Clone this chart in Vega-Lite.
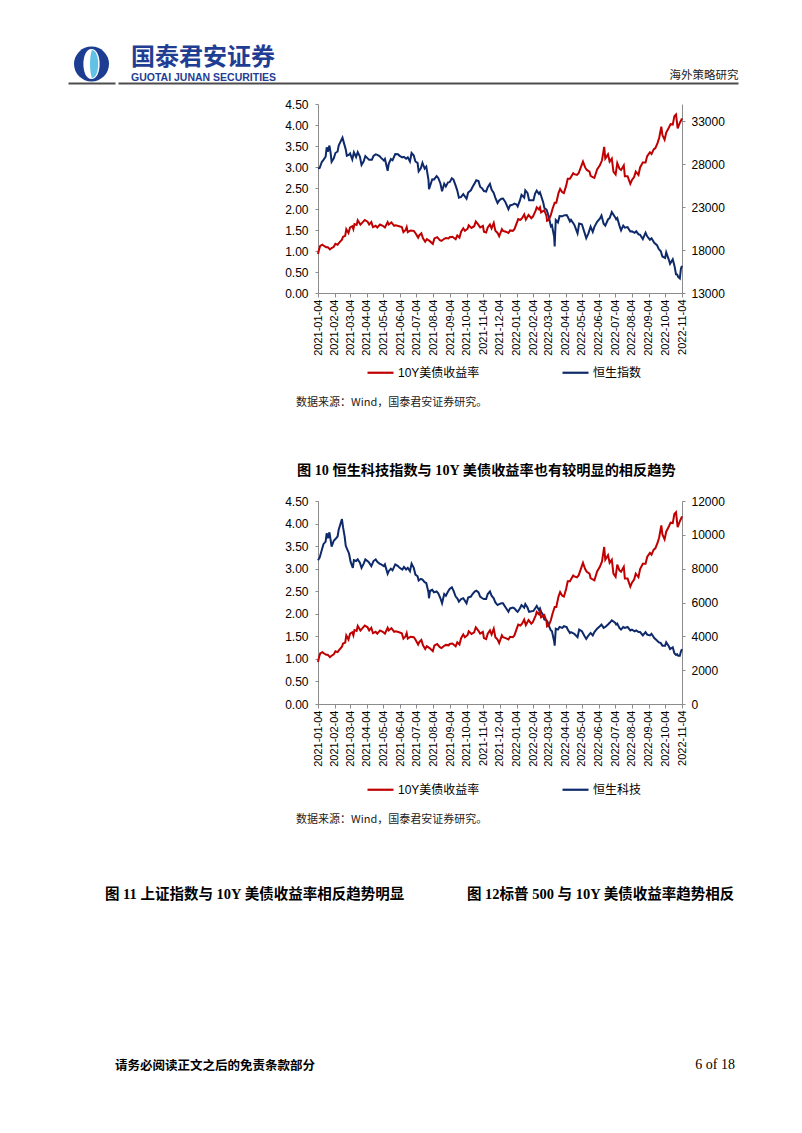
{
  "$schema": "https://vega.github.io/schema/vega-lite/v6.json",
  "background": "white",
  "padding": {"left": 68, "top": 45, "right": 0, "bottom": 0},
  "config": {
    "view": {"stroke": null},
    "font": "Liberation Sans",
    "axis": {"grid": false, "labelColor": "#000000", "labelFont": "Liberation Sans", "domainColor": "#8c8c8c", "tickColor": "#8c8c8c", "labelFontSize": 12, "labelOverlap": false},
    "axisX": {"labelOverlap": false},
    "title": {"color": "#000000"}
  },
  "datasets": {
    "ust": [
      {"d":"2021-01-04","v":0.93},{"d":"2021-01-06","v":1.04},{"d":"2021-01-08","v":1.12},{"d":"2021-01-12","v":1.15},{"d":"2021-01-14","v":1.13},{"d":"2021-01-19","v":1.09},{"d":"2021-01-22","v":1.09},{"d":"2021-01-26","v":1.04},{"d":"2021-01-29","v":1.07},
      {"d":"2021-02-02","v":1.10},{"d":"2021-02-05","v":1.17},{"d":"2021-02-09","v":1.15},{"d":"2021-02-12","v":1.20},{"d":"2021-02-17","v":1.27},{"d":"2021-02-19","v":1.34},{"d":"2021-02-23","v":1.36},{"d":"2021-02-25","v":1.52},
      {"d":"2021-03-01","v":1.43},{"d":"2021-03-04","v":1.56},{"d":"2021-03-08","v":1.59},{"d":"2021-03-10","v":1.52},{"d":"2021-03-12","v":1.64},{"d":"2021-03-16","v":1.62},{"d":"2021-03-18","v":1.73},{"d":"2021-03-23","v":1.63},{"d":"2021-03-26","v":1.67},{"d":"2021-03-31","v":1.74},
      {"d":"2021-04-05","v":1.70},{"d":"2021-04-08","v":1.63},{"d":"2021-04-12","v":1.69},{"d":"2021-04-15","v":1.57},{"d":"2021-04-20","v":1.60},{"d":"2021-04-23","v":1.56},{"d":"2021-04-28","v":1.63},
      {"d":"2021-05-03","v":1.60},{"d":"2021-05-07","v":1.56},{"d":"2021-05-12","v":1.69},{"d":"2021-05-14","v":1.63},{"d":"2021-05-19","v":1.68},{"d":"2021-05-24","v":1.60},{"d":"2021-05-27","v":1.61},
      {"d":"2021-06-02","v":1.59},{"d":"2021-06-07","v":1.57},{"d":"2021-06-10","v":1.45},{"d":"2021-06-14","v":1.50},{"d":"2021-06-16","v":1.57},{"d":"2021-06-18","v":1.45},{"d":"2021-06-23","v":1.49},{"d":"2021-06-29","v":1.48},
      {"d":"2021-07-02","v":1.43},{"d":"2021-07-07","v":1.32},{"d":"2021-07-09","v":1.37},{"d":"2021-07-13","v":1.42},{"d":"2021-07-16","v":1.30},{"d":"2021-07-20","v":1.22},{"d":"2021-07-23","v":1.28},{"d":"2021-07-28","v":1.24},
      {"d":"2021-08-03","v":1.17},{"d":"2021-08-06","v":1.30},{"d":"2021-08-11","v":1.33},{"d":"2021-08-16","v":1.26},{"d":"2021-08-19","v":1.24},{"d":"2021-08-24","v":1.29},{"d":"2021-08-27","v":1.31},
      {"d":"2021-09-01","v":1.30},{"d":"2021-09-03","v":1.33},{"d":"2021-09-08","v":1.34},{"d":"2021-09-14","v":1.28},{"d":"2021-09-17","v":1.37},{"d":"2021-09-21","v":1.32},{"d":"2021-09-24","v":1.46},{"d":"2021-09-28","v":1.54},
      {"d":"2021-10-01","v":1.48},{"d":"2021-10-06","v":1.53},{"d":"2021-10-08","v":1.61},{"d":"2021-10-13","v":1.55},{"d":"2021-10-18","v":1.59},{"d":"2021-10-21","v":1.70},{"d":"2021-10-26","v":1.62},{"d":"2021-10-29","v":1.56},
      {"d":"2021-11-03","v":1.60},{"d":"2021-11-05","v":1.46},{"d":"2021-11-09","v":1.44},{"d":"2021-11-12","v":1.56},{"d":"2021-11-16","v":1.63},{"d":"2021-11-19","v":1.54},{"d":"2021-11-23","v":1.67},{"d":"2021-11-26","v":1.48},{"d":"2021-11-30","v":1.43},
      {"d":"2021-12-03","v":1.35},{"d":"2021-12-08","v":1.52},{"d":"2021-12-10","v":1.48},{"d":"2021-12-15","v":1.46},{"d":"2021-12-20","v":1.43},{"d":"2021-12-23","v":1.49},{"d":"2021-12-28","v":1.48},{"d":"2021-12-31","v":1.52},
      {"d":"2022-01-04","v":1.66},{"d":"2022-01-07","v":1.76},{"d":"2022-01-11","v":1.74},{"d":"2022-01-14","v":1.78},{"d":"2022-01-18","v":1.87},{"d":"2022-01-21","v":1.75},{"d":"2022-01-26","v":1.86},{"d":"2022-01-31","v":1.78},
      {"d":"2022-02-03","v":1.82},{"d":"2022-02-08","v":1.96},{"d":"2022-02-10","v":2.04},{"d":"2022-02-14","v":1.99},{"d":"2022-02-16","v":2.04},{"d":"2022-02-18","v":1.92},{"d":"2022-02-24","v":1.97},{"d":"2022-02-28","v":1.83},
      {"d":"2022-03-01","v":1.72},{"d":"2022-03-04","v":1.74},{"d":"2022-03-08","v":1.86},{"d":"2022-03-11","v":2.00},{"d":"2022-03-15","v":2.15},{"d":"2022-03-18","v":2.15},{"d":"2022-03-22","v":2.38},{"d":"2022-03-25","v":2.48},{"d":"2022-03-29","v":2.40},
      {"d":"2022-04-01","v":2.38},{"d":"2022-04-05","v":2.55},{"d":"2022-04-08","v":2.72},{"d":"2022-04-12","v":2.72},{"d":"2022-04-18","v":2.85},{"d":"2022-04-20","v":2.83},{"d":"2022-04-25","v":2.81},{"d":"2022-04-28","v":2.85},
      {"d":"2022-05-02","v":2.99},{"d":"2022-05-06","v":3.13},{"d":"2022-05-10","v":2.99},{"d":"2022-05-13","v":2.93},{"d":"2022-05-18","v":2.89},{"d":"2022-05-20","v":2.79},{"d":"2022-05-24","v":2.76},{"d":"2022-05-27","v":2.74},
      {"d":"2022-06-01","v":2.94},{"d":"2022-06-06","v":3.04},{"d":"2022-06-10","v":3.16},{"d":"2022-06-14","v":3.48},{"d":"2022-06-16","v":3.20},{"d":"2022-06-21","v":3.30},{"d":"2022-06-24","v":3.13},{"d":"2022-06-28","v":3.20},
      {"d":"2022-07-01","v":2.89},{"d":"2022-07-05","v":2.82},{"d":"2022-07-08","v":3.09},{"d":"2022-07-12","v":2.96},{"d":"2022-07-15","v":2.93},{"d":"2022-07-20","v":3.04},{"d":"2022-07-22","v":2.78},{"d":"2022-07-27","v":2.78},
      {"d":"2022-08-01","v":2.60},{"d":"2022-08-04","v":2.69},{"d":"2022-08-08","v":2.76},{"d":"2022-08-11","v":2.89},{"d":"2022-08-16","v":2.81},{"d":"2022-08-19","v":2.99},{"d":"2022-08-24","v":3.11},{"d":"2022-08-29","v":3.11},
      {"d":"2022-09-01","v":3.26},{"d":"2022-09-06","v":3.35},{"d":"2022-09-09","v":3.31},{"d":"2022-09-13","v":3.42},{"d":"2022-09-16","v":3.45},{"d":"2022-09-20","v":3.57},{"d":"2022-09-23","v":3.69},{"d":"2022-09-27","v":3.96},{"d":"2022-09-29","v":3.76},
      {"d":"2022-10-03","v":3.65},{"d":"2022-10-06","v":3.82},{"d":"2022-10-11","v":3.94},{"d":"2022-10-14","v":4.02},{"d":"2022-10-18","v":4.01},{"d":"2022-10-21","v":4.21},{"d":"2022-10-24","v":4.25},{"d":"2022-10-27","v":3.92},{"d":"2022-10-31","v":4.05},
      {"d":"2022-11-02","v":4.10},{"d":"2022-11-04","v":4.16}
    ],
    "hsi": [
      {"d":"2021-01-04","v":27472},{"d":"2021-01-07","v":27548},{"d":"2021-01-11","v":28246},{"d":"2021-01-14","v":28496},{"d":"2021-01-18","v":28862},{"d":"2021-01-20","v":29962},{"d":"2021-01-22","v":29447},{"d":"2021-01-25","v":30159},{"d":"2021-01-27","v":29391},{"d":"2021-01-29","v":28283},
      {"d":"2021-02-02","v":28689},{"d":"2021-02-05","v":29289},{"d":"2021-02-09","v":29476},{"d":"2021-02-11","v":30173},{"d":"2021-02-18","v":31085},{"d":"2021-02-22","v":30156},{"d":"2021-02-24","v":29718},{"d":"2021-02-26","v":28980},
      {"d":"2021-03-02","v":29095},{"d":"2021-03-04","v":29236},{"d":"2021-03-08","v":28540},{"d":"2021-03-11","v":29385},{"d":"2021-03-15","v":28834},{"d":"2021-03-18","v":29405},{"d":"2021-03-22","v":28885},{"d":"2021-03-25","v":27900},{"d":"2021-03-29","v":28338},
      {"d":"2021-04-01","v":28939},{"d":"2021-04-08","v":28497},{"d":"2021-04-13","v":28497},{"d":"2021-04-16","v":28969},{"d":"2021-04-20","v":29135},{"d":"2021-04-23","v":29078},{"d":"2021-04-27","v":28941},{"d":"2021-04-30","v":28725},
      {"d":"2021-05-05","v":28418},{"d":"2021-05-07","v":28610},{"d":"2021-05-12","v":27231},{"d":"2021-05-14","v":28027},{"d":"2021-05-18","v":28593},{"d":"2021-05-21","v":28458},{"d":"2021-05-26","v":29166},{"d":"2021-05-31","v":29152},
      {"d":"2021-06-03","v":28966},{"d":"2021-06-08","v":28781},{"d":"2021-06-11","v":28842},{"d":"2021-06-15","v":28638},{"d":"2021-06-18","v":28801},{"d":"2021-06-22","v":28309},{"d":"2021-06-25","v":29288},{"d":"2021-06-29","v":28995},
      {"d":"2021-07-02","v":28310},{"d":"2021-07-06","v":28143},{"d":"2021-07-08","v":27154},{"d":"2021-07-12","v":27515},{"d":"2021-07-15","v":28151},{"d":"2021-07-19","v":27489},{"d":"2021-07-22","v":27723},{"d":"2021-07-26","v":26192},{"d":"2021-07-27","v":25086},{"d":"2021-07-29","v":25473},
      {"d":"2021-08-02","v":26235},{"d":"2021-08-05","v":26205},{"d":"2021-08-10","v":26605},{"d":"2021-08-13","v":26391},{"d":"2021-08-17","v":25745},{"d":"2021-08-20","v":24849},{"d":"2021-08-24","v":25727},{"d":"2021-08-27","v":25407},{"d":"2021-08-31","v":25878},
      {"d":"2021-09-03","v":25901},{"d":"2021-09-07","v":26353},{"d":"2021-09-10","v":26205},{"d":"2021-09-14","v":25502},{"d":"2021-09-17","v":24920},{"d":"2021-09-20","v":24099},{"d":"2021-09-24","v":24192},{"d":"2021-09-28","v":24500},
      {"d":"2021-10-04","v":23972},{"d":"2021-10-07","v":24701},{"d":"2021-10-12","v":24962},{"d":"2021-10-15","v":25330},{"d":"2021-10-19","v":25787},{"d":"2021-10-22","v":26126},{"d":"2021-10-26","v":26038},{"d":"2021-10-29","v":25377},
      {"d":"2021-11-02","v":25155},{"d":"2021-11-05","v":24870},{"d":"2021-11-09","v":24813},{"d":"2021-11-12","v":25327},{"d":"2021-11-16","v":25714},{"d":"2021-11-19","v":25049},{"d":"2021-11-23","v":24652},{"d":"2021-11-26","v":24080},{"d":"2021-11-30","v":23475},
      {"d":"2021-12-03","v":23767},{"d":"2021-12-07","v":23983},{"d":"2021-12-10","v":23995},{"d":"2021-12-14","v":23635},{"d":"2021-12-17","v":23193},{"d":"2021-12-20","v":22744},{"d":"2021-12-23","v":23193},{"d":"2021-12-28","v":23280},{"d":"2021-12-31","v":23398},
      {"d":"2022-01-04","v":23289},{"d":"2022-01-06","v":23072},{"d":"2022-01-10","v":23746},{"d":"2022-01-13","v":24430},{"d":"2022-01-18","v":24113},{"d":"2022-01-20","v":24953},{"d":"2022-01-24","v":24656},{"d":"2022-01-27","v":23807},
      {"d":"2022-02-04","v":23802},{"d":"2022-02-07","v":24579},{"d":"2022-02-10","v":24924},{"d":"2022-02-14","v":24556},{"d":"2022-02-16","v":24718},{"d":"2022-02-18","v":24327},{"d":"2022-02-22","v":23520},{"d":"2022-02-24","v":22901},{"d":"2022-02-28","v":22713},
      {"d":"2022-03-02","v":22343},{"d":"2022-03-04","v":21906},{"d":"2022-03-08","v":20765},{"d":"2022-03-10","v":20890},{"d":"2022-03-14","v":19531},{"d":"2022-03-15","v":18415},{"d":"2022-03-16","v":20087},{"d":"2022-03-17","v":21501},{"d":"2022-03-21","v":21221},{"d":"2022-03-24","v":21945},{"d":"2022-03-29","v":21927},
      {"d":"2022-04-01","v":22039},{"d":"2022-04-06","v":22080},{"d":"2022-04-08","v":21872},{"d":"2022-04-12","v":21319},{"d":"2022-04-14","v":21518},{"d":"2022-04-20","v":20944},{"d":"2022-04-26","v":19934},{"d":"2022-04-29","v":21089},
      {"d":"2022-05-04","v":21001},{"d":"2022-05-09","v":20002},{"d":"2022-05-12","v":19380},{"d":"2022-05-16","v":19950},{"d":"2022-05-20","v":20717},{"d":"2022-05-24","v":20112},{"d":"2022-05-27","v":20697},
      {"d":"2022-06-01","v":21294},{"d":"2022-06-06","v":21653},{"d":"2022-06-09","v":22014},{"d":"2022-06-13","v":21067},{"d":"2022-06-16","v":20845},{"d":"2022-06-21","v":21559},{"d":"2022-06-24","v":21719},{"d":"2022-06-28","v":22418},
      {"d":"2022-07-04","v":21830},{"d":"2022-07-06","v":21586},{"d":"2022-07-08","v":21725},{"d":"2022-07-12","v":20844},{"d":"2022-07-15","v":20297},{"d":"2022-07-19","v":20846},{"d":"2022-07-22","v":20609},{"d":"2022-07-27","v":20670},
      {"d":"2022-08-01","v":20165},{"d":"2022-08-04","v":20174},{"d":"2022-08-09","v":20003},{"d":"2022-08-12","v":20175},{"d":"2022-08-16","v":19830},{"d":"2022-08-19","v":19773},{"d":"2022-08-24","v":19268},{"d":"2022-08-29","v":20023},
      {"d":"2022-09-01","v":19597},{"d":"2022-09-06","v":19202},{"d":"2022-09-09","v":19362},{"d":"2022-09-14","v":18848},{"d":"2022-09-19","v":18566},{"d":"2022-09-22","v":18147},{"d":"2022-09-26","v":17855},{"d":"2022-09-29","v":17250},
      {"d":"2022-10-04","v":17080},{"d":"2022-10-06","v":17740},{"d":"2022-10-11","v":16832},{"d":"2022-10-13","v":16389},{"d":"2022-10-18","v":16914},{"d":"2022-10-21","v":16211},{"d":"2022-10-24","v":15180},{"d":"2022-10-26","v":15165},{"d":"2022-10-28","v":14863},{"d":"2022-10-31","v":14687},
      {"d":"2022-11-02","v":15827},{"d":"2022-11-04","v":16161}
    ],
    "hst": [
      {"d":"2021-01-04","v":8500},{"d":"2021-01-07","v":8650},{"d":"2021-01-11","v":9100},{"d":"2021-01-14","v":9450},{"d":"2021-01-18","v":9600},{"d":"2021-01-20","v":10100},{"d":"2021-01-22","v":9800},{"d":"2021-01-25","v":10150},{"d":"2021-01-27","v":9750},{"d":"2021-01-29","v":9300},
      {"d":"2021-02-02","v":9650},{"d":"2021-02-05","v":9750},{"d":"2021-02-09","v":9900},{"d":"2021-02-11","v":10300},{"d":"2021-02-17","v":10930},{"d":"2021-02-19","v":10450},{"d":"2021-02-22","v":9900},{"d":"2021-02-24","v":9350},{"d":"2021-02-26","v":9200},
      {"d":"2021-03-02","v":8900},{"d":"2021-03-05","v":8400},{"d":"2021-03-09","v":8050},{"d":"2021-03-11","v":8500},{"d":"2021-03-15","v":8450},{"d":"2021-03-18","v":8550},{"d":"2021-03-22","v":8350},{"d":"2021-03-25","v":8050},{"d":"2021-03-29","v":8300},
      {"d":"2021-04-01","v":8550},{"d":"2021-04-07","v":8400},{"d":"2021-04-12","v":8150},{"d":"2021-04-16","v":8450},{"d":"2021-04-20","v":8550},{"d":"2021-04-23","v":8400},{"d":"2021-04-27","v":8300},{"d":"2021-04-30","v":8250},
      {"d":"2021-05-05","v":8150},{"d":"2021-05-07","v":8250},{"d":"2021-05-12","v":7700},{"d":"2021-05-14","v":7850},{"d":"2021-05-18","v":8000},{"d":"2021-05-21","v":7900},{"d":"2021-05-26","v":8250},{"d":"2021-05-31","v":8150},
      {"d":"2021-06-03","v":8050},{"d":"2021-06-08","v":7950},{"d":"2021-06-11","v":8100},{"d":"2021-06-15","v":7950},{"d":"2021-06-18","v":8050},{"d":"2021-06-22","v":7850},{"d":"2021-06-25","v":8300},{"d":"2021-06-29","v":8050},
      {"d":"2021-07-02","v":7650},{"d":"2021-07-06","v":7550},{"d":"2021-07-08","v":7300},{"d":"2021-07-12","v":7400},{"d":"2021-07-15","v":7350},{"d":"2021-07-19","v":7200},{"d":"2021-07-22","v":7150},{"d":"2021-07-26","v":6600},{"d":"2021-07-27","v":6250},{"d":"2021-07-29","v":6700},
      {"d":"2021-08-02","v":6750},{"d":"2021-08-05","v":6600},{"d":"2021-08-10","v":6650},{"d":"2021-08-13","v":6550},{"d":"2021-08-17","v":6250},{"d":"2021-08-20","v":5950},{"d":"2021-08-24","v":6500},{"d":"2021-08-27","v":6400},{"d":"2021-08-31","v":6650},
      {"d":"2021-09-03","v":6800},{"d":"2021-09-07","v":6900},{"d":"2021-09-10","v":6700},{"d":"2021-09-14","v":6350},{"d":"2021-09-17","v":6250},{"d":"2021-09-20","v":6050},{"d":"2021-09-24","v":6200},{"d":"2021-09-28","v":6250},
      {"d":"2021-10-04","v":5950},{"d":"2021-10-07","v":6300},{"d":"2021-10-12","v":6350},{"d":"2021-10-15","v":6500},{"d":"2021-10-19","v":6650},{"d":"2021-10-22","v":6700},{"d":"2021-10-26","v":6600},{"d":"2021-10-29","v":6350},
      {"d":"2021-11-02","v":6250},{"d":"2021-11-05","v":6200},{"d":"2021-11-09","v":6200},{"d":"2021-11-12","v":6500},{"d":"2021-11-16","v":6650},{"d":"2021-11-19","v":6400},{"d":"2021-11-23","v":6250},{"d":"2021-11-26","v":6000},{"d":"2021-11-30","v":5850},
      {"d":"2021-12-03","v":5900},{"d":"2021-12-07","v":5950},{"d":"2021-12-10","v":5950},{"d":"2021-12-14","v":5750},{"d":"2021-12-17","v":5600},{"d":"2021-12-20","v":5450},{"d":"2021-12-23","v":5650},{"d":"2021-12-28","v":5700},{"d":"2021-12-31","v":5650},
      {"d":"2022-01-04","v":5500},{"d":"2022-01-06","v":5450},{"d":"2022-01-10","v":5650},{"d":"2022-01-13","v":5850},{"d":"2022-01-18","v":5700},{"d":"2022-01-20","v":5900},{"d":"2022-01-24","v":5700},{"d":"2022-01-27","v":5450},
      {"d":"2022-02-04","v":5500},{"d":"2022-02-07","v":5650},{"d":"2022-02-10","v":5800},{"d":"2022-02-14","v":5550},{"d":"2022-02-16","v":5650},{"d":"2022-02-18","v":5450},{"d":"2022-02-22","v":5250},{"d":"2022-02-24","v":5000},{"d":"2022-02-28","v":4950},
      {"d":"2022-03-02","v":4850},{"d":"2022-03-04","v":4650},{"d":"2022-03-08","v":4350},{"d":"2022-03-10","v":4300},{"d":"2022-03-14","v":3700},{"d":"2022-03-15","v":3450},{"d":"2022-03-16","v":3950},{"d":"2022-03-17","v":4450},{"d":"2022-03-21","v":4400},{"d":"2022-03-24","v":4550},{"d":"2022-03-29","v":4500},
      {"d":"2022-04-01","v":4600},{"d":"2022-04-06","v":4550},{"d":"2022-04-08","v":4400},{"d":"2022-04-12","v":4200},{"d":"2022-04-14","v":4250},{"d":"2022-04-20","v":4150},{"d":"2022-04-26","v":3950},{"d":"2022-04-29","v":4400},
      {"d":"2022-05-04","v":4300},{"d":"2022-05-09","v":4000},{"d":"2022-05-12","v":3850},{"d":"2022-05-16","v":4050},{"d":"2022-05-20","v":4200},{"d":"2022-05-24","v":4050},{"d":"2022-05-27","v":4250},
      {"d":"2022-06-01","v":4450},{"d":"2022-06-06","v":4600},{"d":"2022-06-09","v":4700},{"d":"2022-06-13","v":4500},{"d":"2022-06-16","v":4550},{"d":"2022-06-21","v":4700},{"d":"2022-06-24","v":4800},{"d":"2022-06-28","v":4950},
      {"d":"2022-07-04","v":4800},{"d":"2022-07-06","v":4700},{"d":"2022-07-08","v":4750},{"d":"2022-07-12","v":4500},{"d":"2022-07-15","v":4400},{"d":"2022-07-19","v":4550},{"d":"2022-07-22","v":4500},{"d":"2022-07-27","v":4550},
      {"d":"2022-08-01","v":4350},{"d":"2022-08-04","v":4400},{"d":"2022-08-09","v":4300},{"d":"2022-08-12","v":4350},{"d":"2022-08-16","v":4250},{"d":"2022-08-19","v":4250},{"d":"2022-08-24","v":4050},{"d":"2022-08-29","v":4250},
      {"d":"2022-09-01","v":4100},{"d":"2022-09-06","v":4050},{"d":"2022-09-09","v":4150},{"d":"2022-09-14","v":3900},{"d":"2022-09-19","v":3750},{"d":"2022-09-22","v":3650},{"d":"2022-09-26","v":3600},{"d":"2022-09-29","v":3450},
      {"d":"2022-10-04","v":3450},{"d":"2022-10-06","v":3650},{"d":"2022-10-11","v":3400},{"d":"2022-10-13","v":3250},{"d":"2022-10-18","v":3350},{"d":"2022-10-21","v":3000},{"d":"2022-10-24","v":2900},{"d":"2022-10-26","v":2950},{"d":"2022-10-28","v":2850},{"d":"2022-10-31","v":2850},
      {"d":"2022-11-02","v":3100},{"d":"2022-11-04","v":3250}
    ]
  },
  "resolve": {"scale": {"color": "independent", "x": "independent", "y": "independent"}, "legend": {"color": "independent"}},
  "spacing": 15,
  "vconcat": [
    {
      "spacing": 0,
      "resolve": {"scale": {"x": "independent", "y": "independent"}},
      "hconcat": [
        {
          "width": 47, "height": 38,
          "data": {"values": [{"logo": 1}]},
          "layer": [
            {"mark": {"type": "point", "shape": "circle", "filled": true, "size": 1225, "color": "#1c3d91", "opacity": 1},
             "encoding": {"x": {"datum": 0.5, "type": "quantitative", "scale": {"domain": [0, 1]}, "axis": {"orient": "bottom", "domain": true, "domainColor": "#4d4d4d", "domainWidth": 2, "ticks": false, "labels": false, "title": null, "grid": false}}}},
            {"mark": {"type": "point", "shape": "M0,-0.86C0.62,-0.86 0.62,0.86 0,0.86C-0.62,0.86 -0.62,-0.86 0,-0.86Z", "filled": true, "size": 1225, "color": "#ffffff", "opacity": 1},
             "encoding": {"x": {"datum": 0.5, "type": "quantitative"}}},
            {"mark": {"type": "point", "shape": "M0.02,-0.8C0.5,-0.8 0.5,0.8 0.02,0.8C-0.12,0.4 -0.12,-0.4 0.02,-0.8Z", "filled": true, "size": 1225, "color": "#62c2e6", "opacity": 1},
             "encoding": {"x": {"datum": 0.5, "type": "quantitative"}}}
          ]
        },
        {
          "width": 620, "height": 38,
          "data": {"values": [{"a": 0}]},
          "title": {"text": "国泰君安证券", "subtitle": "GUOTAI JUNAN SECURITIES", "anchor": "start", "frame": "group", "dx": 13, "offset": -38, "font": "Noto Sans CJK SC", "fontSize": 24, "fontWeight": "bold", "color": "#1f3e93", "subtitleFont": "Liberation Sans", "subtitleFontSize": 10.5, "subtitleFontWeight": "bold", "subtitleColor": "#1f3e93", "subtitlePadding": 3},
          "mark": {"type": "point", "opacity": 0},
          "encoding": {"x": {"field": "a", "type": "quantitative", "scale": {"domain": [0, 1]}, "axis": {"orient": "bottom", "domain": true, "domainColor": "#4d4d4d", "domainWidth": 2, "ticks": false, "labels": false, "grid": false, "title": "海外策略研究", "titleAnchor": "end", "titlePadding": -3, "titleBaseline": "bottom", "titleFont": "Noto Sans CJK SC", "titleFontSize": 11.5, "titleFontWeight": "normal", "titleColor": "#222222"}}}
        }
      ]
    },
    {
      "spacing": 0,
      "resolve": {"scale": {"color": "independent", "x": "independent", "y": "independent"}},
      "hconcat": [
        {"width": 216, "height": 344, "data": {"values": []}, "mark": "point"},
        {
          "width": 364, "height": 189,
          "title": {"text": "数据来源：Wind，国泰君安证券研究。", "orient": "bottom", "anchor": "start", "frame": "group", "dx": -22, "offset": 18, "fontSize": 11, "fontWeight": "normal", "font": "Noto Sans CJK SC", "color": "#222222"},
          "layer": [
            {"data": {"name": "hsi"}, "mark": {"type": "line", "strokeWidth": 2},
             "encoding": {
               "x": {"field": "d", "type": "temporal", "scale": {"type": "utc", "domain": [{"year":2021,"month":1,"date":4,"utc":true},{"year":2022,"month":11,"date":4,"utc":true}]},
                     "axis": {"values": [{"year":2021,"month":1,"date":4,"utc":true},{"year":2021,"month":2,"date":4,"utc":true},{"year":2021,"month":3,"date":4,"utc":true},{"year":2021,"month":4,"date":4,"utc":true},{"year":2021,"month":5,"date":4,"utc":true},{"year":2021,"month":6,"date":4,"utc":true},{"year":2021,"month":7,"date":4,"utc":true},{"year":2021,"month":8,"date":4,"utc":true},{"year":2021,"month":9,"date":4,"utc":true},{"year":2021,"month":10,"date":4,"utc":true},{"year":2021,"month":11,"date":4,"utc":true},{"year":2021,"month":12,"date":4,"utc":true},{"year":2022,"month":1,"date":4,"utc":true},{"year":2022,"month":2,"date":4,"utc":true},{"year":2022,"month":3,"date":4,"utc":true},{"year":2022,"month":4,"date":4,"utc":true},{"year":2022,"month":5,"date":4,"utc":true},{"year":2022,"month":6,"date":4,"utc":true},{"year":2022,"month":7,"date":4,"utc":true},{"year":2022,"month":8,"date":4,"utc":true},{"year":2022,"month":9,"date":4,"utc":true},{"year":2022,"month":10,"date":4,"utc":true},{"year":2022,"month":11,"date":4,"utc":true}],
                              "format": "%Y-%m-%d", "labelAngle": -90, "labelFontSize": 11, "tickSize": 4, "labelPadding": 2, "title": null, "labelOverlap": false, "labelFlush": false, "labelBound": false}},
               "y": {"field": "v", "type": "quantitative", "scale": {"domain": [13000, 35000], "zero": false, "nice": false}, "axis": {"orient": "right", "values": [13000, 18000, 23000, 28000, 33000], "format": "d", "title": null, "tickSize": 3, "labelPadding": 6, "labelOverlap": false}},
               "color": {"datum": "恒生指数", "type": "nominal", "scale": {"domain": ["10Y美债收益率", "恒生指数"], "range": ["#c00000", "#0e2a6b"]},
                         "legend": {"orient": "none", "legendX": 48, "legendY": 254, "direction": "horizontal", "title": null, "symbolType": "stroke", "symbolSize": 676, "symbolStrokeWidth": 2.2, "labelFontSize": 12, "labelFont": "Liberation Sans, Noto Sans CJK SC", "labelColor": "#000000", "labelOffset": 3, "columnPadding": 78, "padding": 0}}
             }},
            {"data": {"name": "ust"}, "mark": {"type": "line", "strokeWidth": 2},
             "encoding": {
               "x": {"field": "d", "type": "temporal", "scale": {"type": "utc", "domain": [{"year":2021,"month":1,"date":4,"utc":true},{"year":2022,"month":11,"date":4,"utc":true}]},
                     "axis": {"values": [{"year":2021,"month":1,"date":4,"utc":true},{"year":2021,"month":2,"date":4,"utc":true},{"year":2021,"month":3,"date":4,"utc":true},{"year":2021,"month":4,"date":4,"utc":true},{"year":2021,"month":5,"date":4,"utc":true},{"year":2021,"month":6,"date":4,"utc":true},{"year":2021,"month":7,"date":4,"utc":true},{"year":2021,"month":8,"date":4,"utc":true},{"year":2021,"month":9,"date":4,"utc":true},{"year":2021,"month":10,"date":4,"utc":true},{"year":2021,"month":11,"date":4,"utc":true},{"year":2021,"month":12,"date":4,"utc":true},{"year":2022,"month":1,"date":4,"utc":true},{"year":2022,"month":2,"date":4,"utc":true},{"year":2022,"month":3,"date":4,"utc":true},{"year":2022,"month":4,"date":4,"utc":true},{"year":2022,"month":5,"date":4,"utc":true},{"year":2022,"month":6,"date":4,"utc":true},{"year":2022,"month":7,"date":4,"utc":true},{"year":2022,"month":8,"date":4,"utc":true},{"year":2022,"month":9,"date":4,"utc":true},{"year":2022,"month":10,"date":4,"utc":true},{"year":2022,"month":11,"date":4,"utc":true}],
                              "format": "%Y-%m-%d", "labelAngle": -90, "labelFontSize": 11, "tickSize": 4, "labelPadding": 2, "title": null, "labelOverlap": false, "labelFlush": false, "labelBound": false}},
               "y": {"field": "v", "type": "quantitative", "scale": {"domain": [0, 4.5], "nice": false}, "axis": {"orient": "left", "values": [0, 0.5, 1, 1.5, 2, 2.5, 3, 3.5, 4, 4.5], "format": ".2f", "title": null, "tickSize": 3, "labelPadding": 7, "labelOverlap": false}},
               "color": {"datum": "10Y美债收益率", "type": "nominal"}
             }}
          ],
          "resolve": {"scale": {"y": "independent"}}
        }
      ]
    },
    {
      "spacing": 0,
      "title": {"text": "图 10 恒生科技指数与 10Y 美债收益率也有较明显的相反趋势", "anchor": "start", "frame": "group", "dx": 229, "offset": 17, "font": "Liberation Serif, Noto Sans CJK SC", "fontSize": 14.2, "fontWeight": "bold", "color": "#000000"},
      "resolve": {"scale": {"color": "independent", "x": "independent", "y": "independent"}},
      "hconcat": [
        {"width": 216, "height": 370, "data": {"values": []}, "mark": "point"},
        {
          "width": 364, "height": 203,
          "title": {"text": "数据来源：Wind，国泰君安证券研究。", "orient": "bottom", "anchor": "start", "frame": "group", "dx": -22, "offset": 18, "fontSize": 11, "fontWeight": "normal", "font": "Noto Sans CJK SC", "color": "#222222"},
          "layer": [
            {"data": {"name": "hst"}, "mark": {"type": "line", "strokeWidth": 2},
             "encoding": {
               "x": {"field": "d", "type": "temporal", "scale": {"type": "utc", "domain": [{"year":2021,"month":1,"date":4,"utc":true},{"year":2022,"month":11,"date":4,"utc":true}]},
                     "axis": {"values": [{"year":2021,"month":1,"date":4,"utc":true},{"year":2021,"month":2,"date":4,"utc":true},{"year":2021,"month":3,"date":4,"utc":true},{"year":2021,"month":4,"date":4,"utc":true},{"year":2021,"month":5,"date":4,"utc":true},{"year":2021,"month":6,"date":4,"utc":true},{"year":2021,"month":7,"date":4,"utc":true},{"year":2021,"month":8,"date":4,"utc":true},{"year":2021,"month":9,"date":4,"utc":true},{"year":2021,"month":10,"date":4,"utc":true},{"year":2021,"month":11,"date":4,"utc":true},{"year":2021,"month":12,"date":4,"utc":true},{"year":2022,"month":1,"date":4,"utc":true},{"year":2022,"month":2,"date":4,"utc":true},{"year":2022,"month":3,"date":4,"utc":true},{"year":2022,"month":4,"date":4,"utc":true},{"year":2022,"month":5,"date":4,"utc":true},{"year":2022,"month":6,"date":4,"utc":true},{"year":2022,"month":7,"date":4,"utc":true},{"year":2022,"month":8,"date":4,"utc":true},{"year":2022,"month":9,"date":4,"utc":true},{"year":2022,"month":10,"date":4,"utc":true},{"year":2022,"month":11,"date":4,"utc":true}],
                              "format": "%Y-%m-%d", "labelAngle": -90, "labelFontSize": 11, "tickSize": 4, "labelPadding": 2, "title": null, "labelOverlap": false, "labelFlush": false, "labelBound": false}},
               "y": {"field": "v", "type": "quantitative", "scale": {"domain": [0, 12000], "nice": false}, "axis": {"orient": "right", "values": [0, 2000, 4000, 6000, 8000, 10000, 12000], "format": "d", "title": null, "tickSize": 3, "labelPadding": 6, "labelOverlap": false}},
               "color": {"datum": "恒生科技", "type": "nominal", "scale": {"domain": ["10Y美债收益率", "恒生科技"], "range": ["#c00000", "#0e2a6b"]},
                         "legend": {"orient": "none", "legendX": 48, "legendY": 274, "direction": "horizontal", "title": null, "symbolType": "stroke", "symbolSize": 676, "symbolStrokeWidth": 2.2, "labelFontSize": 12, "labelFont": "Liberation Sans, Noto Sans CJK SC", "labelColor": "#000000", "labelOffset": 3, "columnPadding": 78, "padding": 0}}
             }},
            {"data": {"name": "ust"}, "mark": {"type": "line", "strokeWidth": 2},
             "encoding": {
               "x": {"field": "d", "type": "temporal", "scale": {"type": "utc", "domain": [{"year":2021,"month":1,"date":4,"utc":true},{"year":2022,"month":11,"date":4,"utc":true}]},
                     "axis": {"values": [{"year":2021,"month":1,"date":4,"utc":true},{"year":2021,"month":2,"date":4,"utc":true},{"year":2021,"month":3,"date":4,"utc":true},{"year":2021,"month":4,"date":4,"utc":true},{"year":2021,"month":5,"date":4,"utc":true},{"year":2021,"month":6,"date":4,"utc":true},{"year":2021,"month":7,"date":4,"utc":true},{"year":2021,"month":8,"date":4,"utc":true},{"year":2021,"month":9,"date":4,"utc":true},{"year":2021,"month":10,"date":4,"utc":true},{"year":2021,"month":11,"date":4,"utc":true},{"year":2021,"month":12,"date":4,"utc":true},{"year":2022,"month":1,"date":4,"utc":true},{"year":2022,"month":2,"date":4,"utc":true},{"year":2022,"month":3,"date":4,"utc":true},{"year":2022,"month":4,"date":4,"utc":true},{"year":2022,"month":5,"date":4,"utc":true},{"year":2022,"month":6,"date":4,"utc":true},{"year":2022,"month":7,"date":4,"utc":true},{"year":2022,"month":8,"date":4,"utc":true},{"year":2022,"month":9,"date":4,"utc":true},{"year":2022,"month":10,"date":4,"utc":true},{"year":2022,"month":11,"date":4,"utc":true}],
                              "format": "%Y-%m-%d", "labelAngle": -90, "labelFontSize": 11, "tickSize": 4, "labelPadding": 2, "title": null, "labelOverlap": false, "labelFlush": false, "labelBound": false}},
               "y": {"field": "v", "type": "quantitative", "scale": {"domain": [0, 4.5], "nice": false}, "axis": {"orient": "left", "values": [0, 0.5, 1, 1.5, 2, 2.5, 3, 3.5, 4, 4.5], "format": ".2f", "title": null, "tickSize": 3, "labelPadding": 7, "labelOverlap": false}},
               "color": {"datum": "10Y美债收益率", "type": "nominal"}
             }}
          ],
          "resolve": {"scale": {"y": "independent"}}
        }
      ]
    },
    {
      "spacing": 0,
      "hconcat": [
        {"width": 362, "height": 137, "data": {"values": []}, "mark": "point",
         "title": {"text": "图  11 上证指数与 10Y 美债收益率相反趋势明显", "anchor": "start", "frame": "group", "dx": 37, "offset": 4, "font": "Liberation Serif, Noto Sans CJK SC", "fontSize": 14.5, "fontWeight": "bold", "color": "#000000"}},
        {"width": 305, "height": 137, "data": {"values": []}, "mark": "point",
         "title": {"text": "图  12标普 500 与 10Y 美债收益率趋势相反", "anchor": "start", "frame": "group", "dx": 37, "offset": 4, "font": "Liberation Serif, Noto Sans CJK SC", "fontSize": 14.5, "fontWeight": "bold", "color": "#000000"}}
      ]
    },
    {
      "spacing": 0,
      "hconcat": [
        {"width": 400, "height": 1, "data": {"values": []}, "mark": "point",
         "title": {"text": "请务必阅读正文之后的免责条款部分", "anchor": "start", "frame": "group", "dx": 47, "offset": 4, "font": "Noto Sans CJK SC", "fontSize": 12.5, "fontWeight": "bold", "color": "#000000"}},
        {"width": 267, "height": 1, "data": {"values": []}, "mark": "point",
         "title": {"text": "6 of 18", "anchor": "end", "frame": "group", "offset": 4, "font": "Liberation Serif", "fontSize": 14, "fontWeight": "normal", "color": "#000000"}}
      ]
    }
  ]
}
